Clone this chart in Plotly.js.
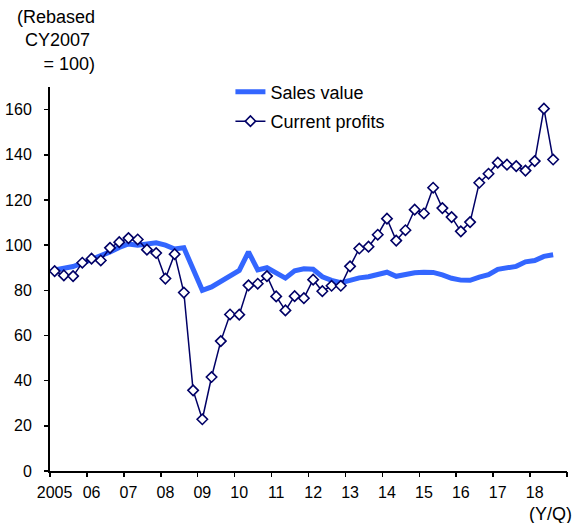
<!DOCTYPE html>
<html>
<head>
<meta charset="utf-8">
<script src="https://cdn.plot.ly/plotly-3.0.1.min.js"></script>
<style>html,body{margin:0;padding:0;background:#fff;}#chart{width:577px;height:523px;}</style>
</head>
<body>
<div id="chart"></div>
<script>
// Quarterly data, 2005Q1 .. 2018Q3 (index 0 = 2005Q1)
var quarterIndex = [];
for (var i = 0; i < 55; i++) quarterIndex.push(i);

var salesValue = [89, 89.5, 90.5, 92, 93.5, 95, 97, 99, 100.5, 100, 100.5, 101,
  100, 98.3, 98.8, 89.5, 80, 81.5, 84, 86.8, 88.8, 97, 89, 90,
  88, 85.4, 88.6, 89.5, 89.3, 86, 84.4, 83.4, 84.4, 85.5, 86, 86.8,
  88, 86.2, 87, 87.8, 88, 87.9, 86.8, 85.3, 84.5, 84.4, 85.8, 86.9,
  89.3, 90.2, 90.6, 92.6, 93.2, 95, 95.7];

var currentProfits = [88.5, 86.6, 86.3, 92.2, 94, 93.2, 98.8, 101.3, 103.1, 102.5, 98, 96.5,
  85.2, 96, 79, 35.7, 22.9, 41.6, 57.5, 69.3, 69.2, 82.2, 82.9, 86.3,
  77.3, 71.1, 77.4, 76.5, 84.7, 79.6, 82, 82, 90.6, 98.5, 99.3, 104.6,
  111.7, 102, 106.6, 115.7, 114, 125.4, 116.4, 112.4, 106.1, 110.2, 127.6, 131.6,
  136.5, 135.6, 135, 133, 137.2, 160.4, 137.9];

var yearLabelPos = [0, 4, 8, 12, 16, 20, 24, 28, 32, 36, 40, 44, 48, 52];
var yearLabels = ['2005', '06', '07', '08', '09', '10', '11', '12', '13', '14', '15', '16', '17', '18'];
var yearBoundaries = [-0.5, 3.5, 7.5, 11.5, 15.5, 19.5, 23.5, 27.5, 31.5, 35.5, 39.5, 43.5, 47.5, 51.5, 55.5];
var yTicks = [0, 20, 40, 60, 80, 100, 120, 140, 160];

var FONT = 'Liberation Sans, Arial, sans-serif';

var traces = [
  {
    x: quarterIndex, y: salesValue, type: 'scatter', mode: 'lines',
    name: 'Sales value', legendgroup: 'a',
    line: {color: '#3366FF', width: 5},
    xaxis: 'x', yaxis: 'y'
  },
  {
    x: quarterIndex, y: currentProfits, type: 'scatter', mode: 'lines+markers',
    name: 'Current profits', legendgroup: 'b',
    line: {color: '#000066', width: 1.5},
    marker: {symbol: 'diamond', size: 8, color: '#ffffff', line: {color: '#000066', width: 1.6}},
    xaxis: 'x2', yaxis: 'y'
  }
];

var layout = {
  width: 577, height: 523,
  margin: {l: 50, r: 10, t: 87, b: 52},
  paper_bgcolor: '#ffffff', plot_bgcolor: '#ffffff',
  font: {family: FONT, size: 18, color: '#000000'},
  showlegend: true,
  legend: {
    x: 0.349, y: 1.035, xanchor: 'left', yanchor: 'top',
    bgcolor: 'rgba(0,0,0,0)', tracegroupgap: 3, traceorder: 'grouped',
    font: {family: FONT, size: 18, color: '#000000'}
  },
  xaxis: {
    range: [-0.5, 55.5], showgrid: false, zeroline: false,
    showline: true, linecolor: '#000000', linewidth: 2,
    tickmode: 'array', tickvals: yearLabelPos, ticktext: yearLabels,
    ticks: '', ticklabelstandoff: 6,
    tickfont: {family: FONT, size: 16, color: '#000000'},
    fixedrange: true
  },
  xaxis2: {
    matches: 'x', overlaying: 'x', anchor: 'y', side: 'bottom',
    showgrid: false, zeroline: false, showline: false,
    tickmode: 'array', tickvals: yearBoundaries, showticklabels: false,
    ticks: 'outside', ticklen: 5, tickwidth: 1.5, tickcolor: '#000000'
  },
  yaxis: {
    range: [0, 170], showgrid: false, zeroline: false,
    showline: true, linecolor: '#000000', linewidth: 2,
    tickmode: 'array', tickvals: yTicks,
    ticks: 'outside', ticklen: 4, tickwidth: 1.5, tickcolor: '#000000',
    ticklabelstandoff: 9,
    tickfont: {family: FONT, size: 16, color: '#000000'},
    fixedrange: true
  },
  annotations: [
    {
      text: '(Rebased<br>CY2007&nbsp;<br>= 100)', xref: 'paper', yref: 'paper',
      x: 0.091, y: 1.213, xanchor: 'right', yanchor: 'top', align: 'right', showarrow: false,
      font: {family: FONT, size: 18, color: '#000000'}
    },
    {
      text: '(Y/Q)', xref: 'paper', yref: 'paper',
      x: 1.014, y: -0.113, xanchor: 'right', yanchor: 'middle', showarrow: false,
      font: {family: FONT, size: 18, color: '#000000'}
    }
  ]
};

Plotly.newPlot('chart', traces, layout, {displayModeBar: false, staticPlot: true});
</script>
</body>
</html>
